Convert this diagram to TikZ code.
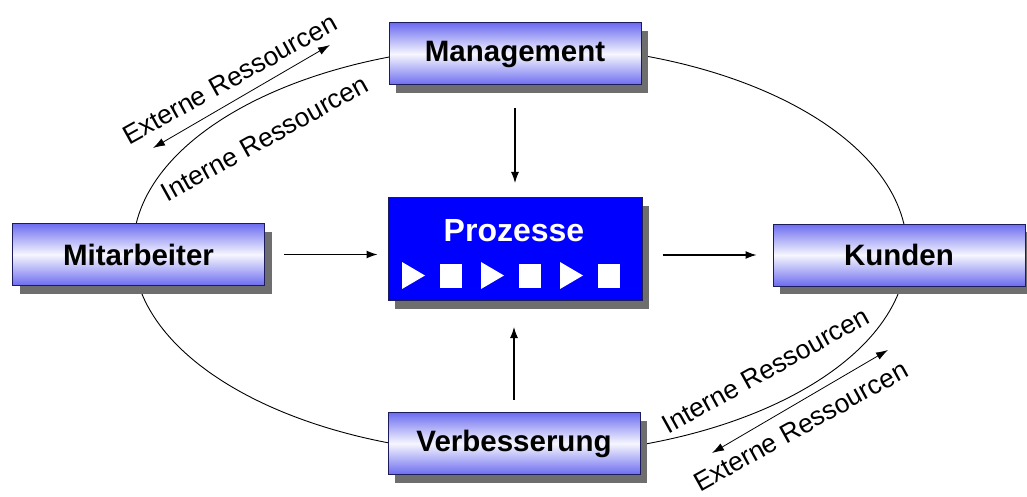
\documentclass[tikz,border=0pt]{standalone}
\usepackage{fontspec}
\setmainfont{Liberation Sans}
\usetikzlibrary{arrows.meta,shadows}
\definecolor{qmblue}{HTML}{0000FF}
\definecolor{qmlight}{HTML}{6C6CF0}
\definecolor{qmline}{HTML}{1C1C5C}
\definecolor{qmshadow}{HTML}{6E6E6E}

\begin{document}
\begin{tikzpicture}[x=1pt,y=-1pt,line width=0.9pt,
  boxstyle/.style={draw=qmline, line width=1pt, minimum width=252pt,
    minimum height=62pt, inner sep=0pt, font=\fontsize{29.5}{31}\selectfont\bfseries,
    drop shadow={shadow xshift=7pt, shadow yshift=-8pt, fill=qmshadow, opacity=1}},
  softbox/.style={boxstyle, top color=qmlight, bottom color=qmlight, middle color=white!94!qmlight},
  flow/.style={-{Latex[length=11pt,width=8pt]}, line width=1.1pt},
  twoway/.style={{Latex[length=12pt,width=8pt]}-{Latex[length=12pt,width=8pt]}, line width=0.8pt},
  res/.style={font=\fontsize{26.5}{28}\selectfont, anchor=base, rotate=29}]
  \useasboundingbox (0,0) rectangle (1027,497);
  % the cycle behind all boxes
  \coordinate (mid) at (520,250);
  \draw[line width=0.9pt] (mid) ellipse [x radius=387pt, y radius=205pt];
  % boxes
  \node[softbox] (mgmt) at (515,54) {Management};
  \node[softbox] (mit)  at (138.5,254.5) {Mitarbeiter};
  \node[softbox] (kun)  at (899,255) {Kunden};
  \node[softbox] (verb) at (514,443.5) {Verbesserung};
  \node[boxstyle, fill=qmblue, minimum width=254pt, minimum height=103pt,
        text=white, anchor=north] (proz) at (515,197) {};
  \node[font=\fontsize{32}{34}\selectfont\bfseries, text=white] (ptitle) at (514,231) {Prozesse};
  % process steps
  \foreach \i in {0,1,2}{
    \fill[white] (402+79*\i,262) -- (425+79*\i,275.5) -- (402+79*\i,289) -- cycle;
    \fill[white] (440+79*\i,264) rectangle (462+79*\i,288);
  }
  % flows into and out of the process
  \draw[flow, shorten <=23pt, shorten >=14pt] (mgmt.south) -- (mgmt.south |- proz.north);
  \draw[flow, shorten <=12pt, shorten >=26pt] (verb.north) -- (verb.north |- proz.south);
  \draw[flow, shorten <=19pt, shorten >=10pt] (mit.east) -- (mit.east -| proz.west);
  \draw[flow, shorten <=20pt, shorten >=16pt] (proz.east |- kun.west) -- (kun.west);
  % resources
  \coordinate (tl1) at (153,148);
  \coordinate (tl2) at (330,45);
  \coordinate (br1) at (712,453);
  \coordinate (br2) at (888,350);
  \draw[twoway] (tl1) -- (tl2);
  \draw[twoway] (br1) -- (br2);
  \node[res] (extl) at (234,87) {Externe Ressourcen};
  \node[res] (intl) at (269,146) {Interne Ressourcen};
  \node[res] (intr) at (770,378) {Interne Ressourcen};
  \node[res] (extr) at (805,434) {Externe Ressourcen};
\end{tikzpicture}
\end{document}
